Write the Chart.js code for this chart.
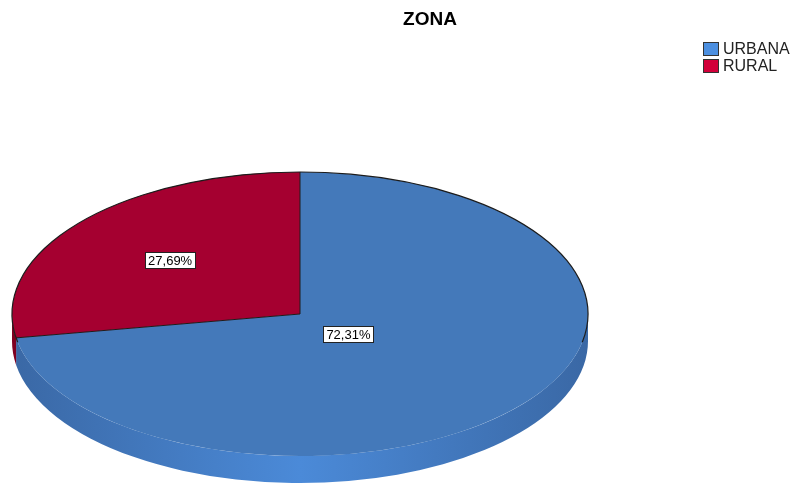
<!DOCTYPE html>
<html>
<head>
<meta charset="utf-8">
<script src="https://cdn.jsdelivr.net/npm/chart.js@4.4.1/dist/chart.umd.min.js"></script>
<style>
  html, body { margin: 0; padding: 0; background: #fff; }
  #wrap { width: 795px; height: 484px; }
</style>
</head>
<body>
<div id="wrap"><canvas id="chart"></canvas></div>
<script>
const chartTitle = 'ZONA';
const categories = ['URBANA', 'RURAL'];
const percents = [72.31, 27.69];
const valueLabels = ['72,31%', '27,69%'];

// colours
const topColors = ['#4479BA', '#A50030'];
const legendColors = ['#4C8FE0', '#D2003A'];
const sideDark = ['#3A68A5', '#7E0020'];
const sideLight = ['#4B8AD8', '#9A002A'];

// 3d ellipse geometry and label placement
const pie = { cx: 300, cy: 314, rx: 288, ry: 142, depth: 27 };
const labelRadius = [0.22, 0.59];
const legendBox = { x: 703, y: 42, w: 16, h: 14, step: 17, gap: 4 };

const pie3d = {
  id: 'pie3d',
  beforeDatasetsDraw(chart) {
    const ctx = chart.ctx;
    const arcs = chart.getDatasetMeta(0).data;
    // side wall, only the front half (canvas angles 0..PI) is visible
    arcs.forEach((arc, i) => {
      const a = arc.startAngle, b = arc.endAngle;
      [[-2 * Math.PI, -Math.PI], [0, Math.PI], [2 * Math.PI, 3 * Math.PI]].forEach(([lo, hi]) => {
        const s = Math.max(a, lo), e = Math.min(b, hi);
        if (e <= s) return;
        const g = ctx.createLinearGradient(pie.cx - pie.rx, 0, pie.cx + pie.rx, 0);
        g.addColorStop(0, sideDark[i]);
        g.addColorStop(0.5, sideLight[i]);
        g.addColorStop(1, sideDark[i]);
        ctx.beginPath();
        ctx.ellipse(pie.cx, pie.cy, pie.rx, pie.ry, 0, s, e);
        ctx.ellipse(pie.cx, pie.cy + pie.depth, pie.rx, pie.ry, 0, e, s, true);
        ctx.closePath();
        ctx.fillStyle = g;
        ctx.fill();
      });
    });
    // squash the flat pie into the top ellipse
    const a0 = arcs[0];
    const R = a0.outerRadius;
    ctx.save();
    ctx.translate(pie.cx, pie.cy);
    ctx.scale(pie.rx / R, pie.ry / R);
    ctx.translate(-a0.x, -a0.y);
  },
  afterDatasetsDraw(chart) {
    const ctx = chart.ctx;
    ctx.restore();
    const arcs = chart.getDatasetMeta(0).data;

    // outline of the back rim and the slice edges
    ctx.save();
    ctx.strokeStyle = '#1c1c1c';
    ctx.lineWidth = 1.2;
    ctx.beginPath();
    ctx.ellipse(pie.cx, pie.cy, pie.rx, pie.ry, 0, Math.PI - 0.2, 2 * Math.PI + 0.2);
    ctx.stroke();
    ctx.lineWidth = 1;
    arcs.forEach(arc => {
      ctx.beginPath();
      ctx.moveTo(pie.cx, pie.cy);
      ctx.lineTo(pie.cx + pie.rx * Math.cos(arc.startAngle), pie.cy + pie.ry * Math.sin(arc.startAngle));
      ctx.stroke();
    });

    // value labels
    ctx.font = '13px "Liberation Sans", Arial, sans-serif';
    ctx.textAlign = 'center';
    ctx.textBaseline = 'middle';
    arcs.forEach((arc, i) => {
      const mid = (arc.startAngle + arc.endAngle) / 2;
      const x = pie.cx + pie.rx * labelRadius[i] * Math.cos(mid);
      const y = pie.cy + pie.ry * labelRadius[i] * Math.sin(mid);
      const w = ctx.measureText(valueLabels[i]).width + 6;
      const h = 16;
      ctx.fillStyle = '#fff';
      ctx.fillRect(Math.round(x - w / 2) + 0.5, Math.round(y - h / 2) + 0.5, Math.round(w), h);
      ctx.strokeStyle = '#222';
      ctx.lineWidth = 1;
      ctx.strokeRect(Math.round(x - w / 2) + 0.5, Math.round(y - h / 2) + 0.5, Math.round(w), h);
      ctx.fillStyle = '#000';
      ctx.fillText(valueLabels[i], x, y + 1);
    });
    ctx.restore();
  },
  afterDraw(chart) {
    // legend
    const ctx = chart.ctx;
    ctx.save();
    ctx.font = '16px "Liberation Sans", Arial, sans-serif';
    ctx.textAlign = 'left';
    ctx.textBaseline = 'middle';
    categories.forEach((c, i) => {
      const y = legendBox.y + i * legendBox.step;
      ctx.fillStyle = legendColors[i];
      ctx.fillRect(legendBox.x, y, legendBox.w, legendBox.h);
      ctx.strokeStyle = '#333';
      ctx.lineWidth = 1;
      ctx.strokeRect(legendBox.x + 0.5, y + 0.5, legendBox.w - 1, legendBox.h - 1);
      ctx.fillStyle = '#222';
      ctx.fillText(c, legendBox.x + legendBox.w + legendBox.gap, y + legendBox.h / 2 + 1);
    });
    ctx.restore();
  }
};

new Chart(document.getElementById('chart'), {
  type: 'pie',
  data: {
    labels: categories,
    datasets: [{
      data: percents,
      backgroundColor: topColors,
      borderWidth: 0,
      clip: false
    }]
  },
  options: {
    responsive: true,
    maintainAspectRatio: false,
    animation: false,
    events: [],
    layout: { padding: { left: 65, right: 0, top: 0, bottom: 0 } },
    plugins: {
      legend: { display: false },
      tooltip: { enabled: false },
      title: {
        display: true,
        text: chartTitle,
        color: '#000',
        font: { family: '"Liberation Sans", Arial, sans-serif', size: 19, weight: 'bold' },
        padding: { top: 8, bottom: 10 }
      }
    }
  },
  plugins: [pie3d]
});
</script>
</body>
</html>
